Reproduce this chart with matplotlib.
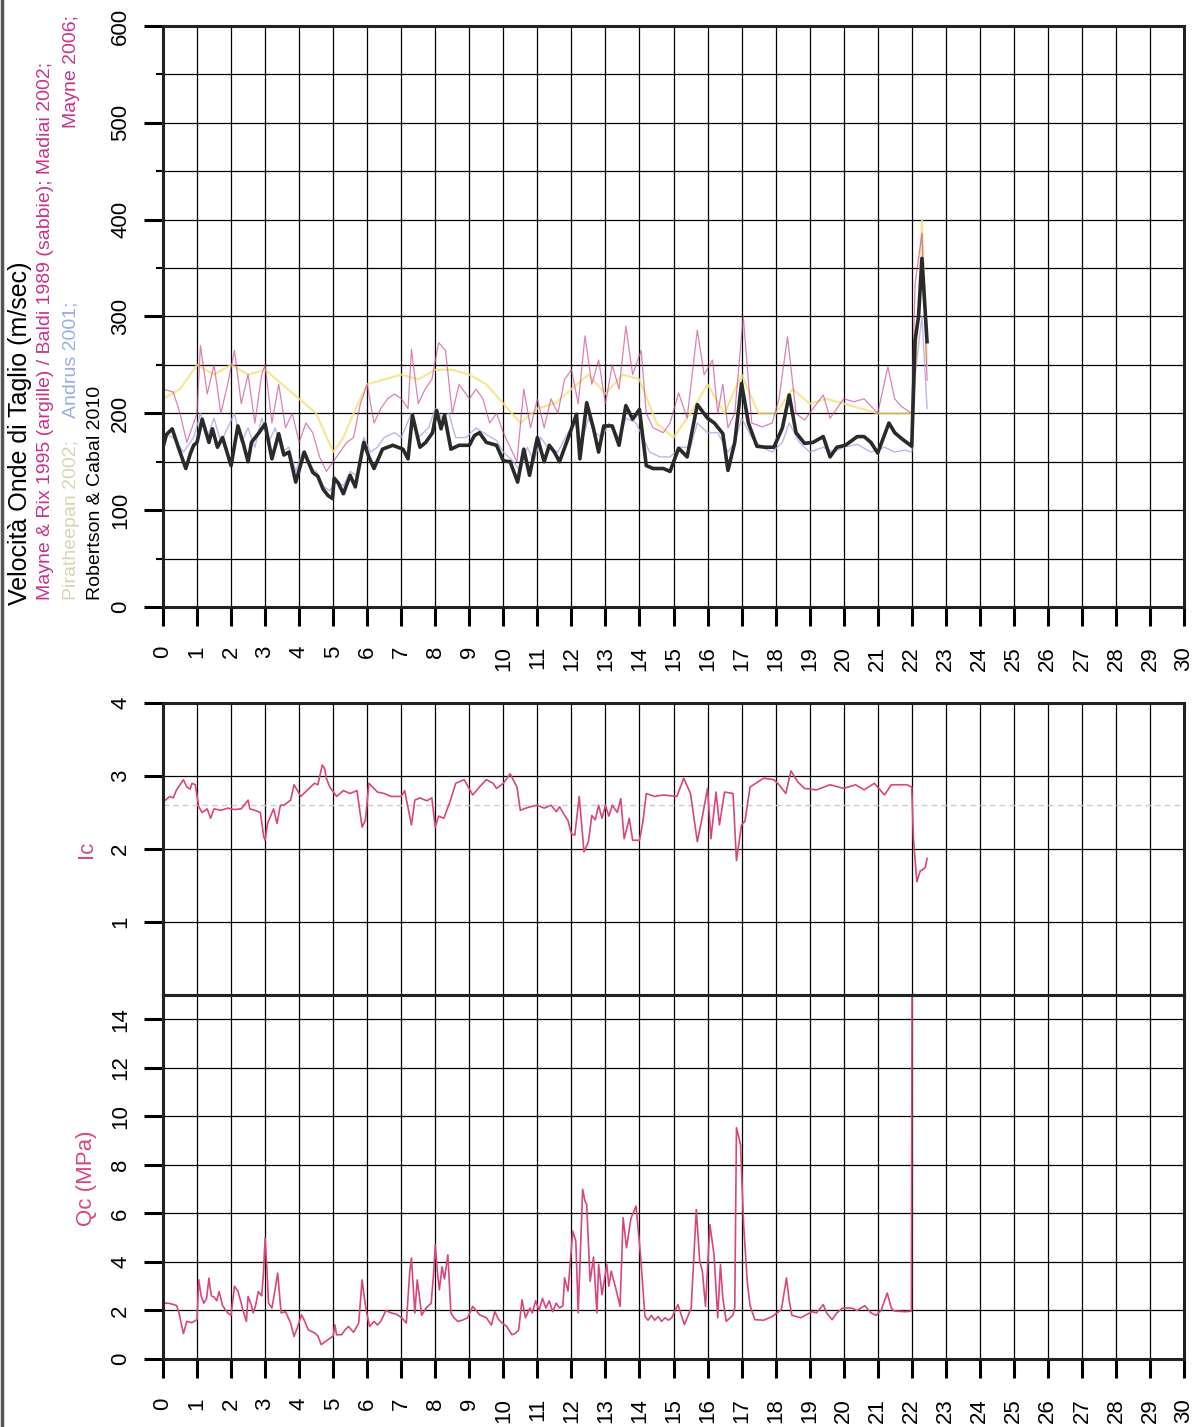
import matplotlib.pyplot as plt
from matplotlib.lines import Line2D

plt.rcParams['font.family'] = ['Liberation Sans', 'DejaVu Sans']

# ---- data (depth in m) ----
# Robertson & Cabal 2010 (black)
rc_depth = [0.0, 0.1, 0.27, 0.45, 0.67, 0.8, 0.9, 1.0, 1.15, 1.35, 1.45, 1.6, 1.75, 2.0, 2.2, 2.35, 2.5,
            2.6, 2.82, 3.0, 3.2, 3.4, 3.55, 3.7, 3.9, 4.15, 4.4, 4.55, 4.7, 4.85, 4.98, 5.03, 5.15, 5.3,
            5.5, 5.65, 5.9, 6.05, 6.2, 6.45, 6.75, 7.05, 7.2, 7.33, 7.55, 7.72, 7.92, 8.04, 8.17, 8.27,
            8.46, 8.7, 9.0, 9.15, 9.3, 9.5, 9.8, 10.0, 10.2, 10.42, 10.6, 10.77, 11.0, 11.2, 11.35, 11.5,
            11.65, 11.9, 12.15, 12.25, 12.45, 12.65, 12.8, 12.95, 13.2, 13.4, 13.6, 13.8, 14.0, 14.2,
            14.4, 14.7, 14.9, 15.15, 15.4, 15.7, 16.0, 16.2, 16.45, 16.6, 16.8, 17.0, 17.2, 17.45, 17.7,
            17.95, 18.2, 18.4, 18.6, 18.85, 19.1, 19.4, 19.6, 19.8, 20.05, 20.4, 20.6, 20.8, 21.0, 21.33,
            21.5, 21.7, 22.0, 22.1, 22.2, 22.3, 22.45]
rc_vs = [165, 178, 184, 165, 143, 158, 167, 170, 194, 170, 184, 165, 175, 146, 187, 170, 150,
         170, 180, 189, 153, 179, 157, 160, 129, 160, 139, 135, 122, 115, 112, 133, 128, 117,
         136, 124, 170, 155, 143, 163, 167, 163, 153, 198, 165, 170, 180, 203, 184, 198,
         163, 167, 167, 177, 180, 170, 167, 151, 150, 129, 163, 136, 175, 150, 167, 160,
         150, 174, 199, 153, 211, 184, 160, 187, 187, 167, 208, 194, 204, 146,
         143, 143, 140, 164, 155, 209, 195, 190, 179, 141, 170, 231, 190, 166, 165,
         165, 185, 219, 180, 169, 170, 176, 155, 165, 167, 176, 176, 170, 159, 190,
         180, 174, 166, 276, 300, 360, 274]

# Mayne & Rix / Baldi (magenta)
mr_depth = [0.0, 0.3, 0.5, 0.7, 1.0, 1.1, 1.3, 1.5, 1.7, 1.9, 2.1, 2.3, 2.5, 2.7, 2.9, 3.0, 3.2, 3.4,
            3.6, 3.8, 4.0, 4.2, 4.4, 4.6, 4.8, 5.0, 5.2, 5.4, 5.6, 5.8, 6.0, 6.2, 6.4, 6.6, 6.8, 7.0,
            7.2, 7.3, 7.5, 7.7, 7.9, 8.1, 8.3, 8.5, 8.7, 9.0, 9.2, 9.4, 9.6, 9.8, 10.0, 10.2, 10.4,
            10.6, 10.8, 11.0, 11.2, 11.4, 11.6, 11.8, 12.0, 12.2, 12.4, 12.6, 12.8, 13.0, 13.2, 13.4,
            13.6, 13.8, 14.05, 14.2, 14.4, 14.7, 14.9, 15.15, 15.4, 15.7, 15.9, 16.15, 16.3, 16.45,
            16.6, 16.8, 17.05, 17.3, 17.6, 17.9, 18.1, 18.35, 18.6, 18.85, 19.1, 19.4, 19.6, 19.8,
            20.0, 20.3, 20.6, 21.0, 21.3, 21.5, 21.7, 22.0, 22.1, 22.3, 22.45]
mr_vs = [225, 222, 200, 170, 200, 270, 220, 250, 200, 230, 265, 210, 240, 190, 240, 250, 190, 230,
         185, 200, 170, 190, 180, 155, 140, 150, 160, 170, 175, 210, 230, 190, 205, 215, 220, 215,
         205, 266, 210, 225, 235, 273, 265, 200, 230, 215, 225, 215, 190, 200, 180, 165, 150,
         225, 185, 215, 185, 215, 200, 235, 245, 210, 280, 230, 255, 210, 250, 225,
         290, 240, 265, 200, 185, 180, 190, 221, 195, 286, 240, 255, 200, 230,
         185, 200, 300, 190, 186, 190, 215, 279, 200, 193, 205, 219, 195, 205,
         215, 212, 215, 200, 248, 215, 207, 200, 334, 386, 234]

# Piratheepan (pale yellow)
py_depth = [0.0, 0.5, 1.0, 1.5, 2.0, 2.5, 3.0, 3.5, 4.0, 4.5, 5.0, 5.3, 5.6, 6.0, 6.5, 7.0, 7.5, 8.0,
            8.5, 9.0, 9.5, 10.0, 10.5, 11.0, 11.5, 12.0, 12.5, 13.0, 13.5, 14.0, 14.5, 15.0, 15.5,
            16.0, 16.5, 17.0, 17.5, 18.0, 18.5, 19.0, 19.5, 20.0, 20.5, 21.0, 21.5, 22.0, 22.2, 22.3,
            22.45]
py_vs = [215, 225, 250, 240, 250, 240, 245, 230, 215, 200, 160, 175, 200, 230, 235, 240, 235, 245,
         245, 240, 230, 210, 190, 205, 210, 225, 240, 220, 240, 235, 190, 175, 200,
         230, 200, 240, 200, 200, 225, 210, 215, 210, 205, 200, 200, 200, 300, 400,
         250]

# Andrus 2001 (lavender)
an_depth = [0.0, 0.3, 0.6, 0.9, 1.1, 1.3, 1.5, 1.7, 1.9, 2.1, 2.3, 2.5, 2.7, 2.9, 3.1, 3.3, 3.5, 3.7,
            3.9, 4.1, 4.3, 4.5, 4.7, 4.9, 5.1, 5.3, 5.5, 5.7, 5.9, 6.1, 6.3, 6.5, 6.8, 7.0, 7.3, 7.5,
            7.8, 8.0, 8.2, 8.4, 8.6, 8.9, 9.2, 9.5, 9.8, 10.0, 10.3, 10.5, 10.7, 10.9, 11.1, 11.3,
            11.6, 11.9, 12.1, 12.3, 12.5, 12.7, 12.9, 13.1, 13.4, 13.6, 13.9, 14.1, 14.3, 14.6, 14.9,
            15.2, 15.5, 15.7, 16.0, 16.3, 16.6, 16.8, 17.0, 17.3, 17.6, 17.9, 18.2, 18.4, 18.7, 19.0,
            19.4, 19.7, 20.0, 20.4, 20.8, 21.2, 21.5, 21.8, 22.0, 22.1, 22.3, 22.45]
an_vs = [180, 175, 160, 175, 200, 175, 195, 170, 185, 200, 170, 185, 165, 195, 170, 185, 160, 165,
         140, 160, 145, 140, 125, 120, 130, 125, 140, 135, 175, 160, 165, 175, 180, 175, 200, 175,
         185, 205, 195, 200, 175, 175, 185, 178, 172, 160, 150, 140, 165, 150, 175, 165,
         160, 180, 190, 170, 195, 180, 175, 190, 175, 195, 190, 175, 160, 155, 155,
         165, 165, 190, 180, 180, 160, 170, 195, 175, 165, 160, 170, 190, 170, 160,
         165, 160, 165, 168, 160, 165, 160, 162, 160, 240, 300, 205]

# Ic
ic_depth = [0.0, 0.07, 0.2, 0.3, 0.4, 0.6, 0.7, 0.8, 0.85, 0.95, 1.05, 1.15, 1.3, 1.4, 1.5, 1.7, 1.9,
            2.1, 2.3, 2.5, 2.55, 2.7, 2.86, 2.96, 3.0, 3.07, 3.15, 3.25, 3.35, 3.45, 3.55, 3.75, 3.85,
            3.95, 4.05, 4.25, 4.45, 4.55, 4.68, 4.75, 4.8, 4.9, 5.1, 5.3, 5.5, 5.7, 5.85, 5.95, 6.05,
            6.3, 6.5, 6.7, 7.0, 7.1, 7.3, 7.4, 7.55, 7.75, 7.9, 8.0, 8.1, 8.25, 8.45, 8.6, 8.85, 9.1,
            9.3, 9.5, 9.7, 9.8, 10.0, 10.2, 10.4, 10.5, 10.6, 10.8, 11.0, 11.2, 11.4, 11.56, 11.65,
            11.8, 11.9, 12.0, 12.1, 12.23, 12.37, 12.5, 12.6, 12.7, 12.8, 12.9, 13.0, 13.1, 13.2,
            13.35, 13.45, 13.55, 13.7, 13.8, 14.0, 14.1, 14.2, 14.45, 14.7, 15.1, 15.3, 15.5, 15.7,
            15.85, 16.0, 16.1, 16.25, 16.35, 16.5, 16.75, 16.85, 17.0, 17.1, 17.25, 17.65, 17.95,
            18.1, 18.3, 18.45, 18.65, 18.85, 19.2, 19.6, 20.0, 20.35, 20.6, 20.9, 21.2, 21.4, 21.85,
            22.0, 22.05, 22.15, 22.25, 22.3, 22.4, 22.45]
ic_val = [2.65, 2.67, 2.72, 2.7, 2.81, 2.95, 2.85, 2.82, 2.9, 2.88, 2.58, 2.5, 2.55, 2.42, 2.55, 2.53, 2.56,
          2.54, 2.55, 2.67, 2.55, 2.53, 2.5, 2.17, 2.12, 2.35, 2.44, 2.55, 2.35, 2.6, 2.6, 2.67, 2.88,
          2.8, 2.72, 2.81, 2.9, 2.88, 3.15, 3.1, 2.97, 2.85, 2.72, 2.8, 2.76, 2.8, 2.3, 2.4, 2.9,
          2.78, 2.76, 2.72, 2.72, 2.8, 2.33, 2.67, 2.7, 2.66, 2.7, 2.3, 2.45, 2.42, 2.67, 2.9, 2.95, 2.74,
          2.85, 2.95, 2.9, 2.83, 2.9, 3.03, 2.85, 2.53, 2.55, 2.58, 2.6, 2.56, 2.6, 2.51, 2.58,
          2.46, 2.39, 2.21, 2.19, 2.72, 1.96, 2.1, 2.46, 2.4, 2.6, 2.42, 2.6, 2.45, 2.6,
          2.5, 2.69, 2.14, 2.42, 2.12, 2.12, 2.37, 2.76, 2.72, 2.74, 2.72, 2.97, 2.76, 2.1,
          2.45, 2.83, 2.14, 2.78, 2.33, 2.78, 2.76, 1.84, 2.33, 2.38, 2.85, 2.97, 2.95,
          2.88, 2.76, 3.07, 2.92, 2.83, 2.81, 2.88, 2.83, 2.88, 2.81, 2.9, 2.74, 2.88, 2.88,
          2.85, 2.14, 1.55, 1.7, 1.71, 1.75, 1.87]

# Qc (MPa)
qc_depth = [0.0, 0.05, 0.15, 0.3, 0.4, 0.47, 0.6, 0.7, 0.85, 1.0, 1.05, 1.12, 1.2, 1.28, 1.35, 1.42,
            1.5, 1.58, 1.65, 1.75, 1.9, 2.0, 2.1, 2.2, 2.3, 2.35, 2.45, 2.5, 2.6, 2.65, 2.72, 2.8, 2.9,
            2.95, 3.0, 3.05, 3.1, 3.2, 3.25, 3.37, 3.47, 3.6, 3.75, 3.85, 3.95, 4.07, 4.15, 4.27, 4.46,
            4.55, 4.65, 4.75, 4.85, 5.0, 5.05, 5.1, 5.25, 5.35, 5.45, 5.6, 5.75, 5.85, 5.92, 5.97, 6.07,
            6.2, 6.3, 6.4, 6.55, 6.7, 6.85, 6.95, 7.05, 7.15, 7.25, 7.3, 7.35, 7.4, 7.47, 7.55, 7.6,
            7.73, 7.88, 7.95, 8.0, 8.07, 8.12, 8.2, 8.27, 8.37, 8.46, 8.55, 8.66, 8.8, 8.95, 9.1, 9.2,
            9.3, 9.5, 9.65, 9.75, 9.85, 9.95, 10.1, 10.25, 10.35, 10.45, 10.55, 10.65, 10.78, 10.85,
            10.95, 11.05, 11.15, 11.25, 11.35, 11.45, 11.55, 11.65, 11.75, 11.8, 11.9, 12.04, 12.13,
            12.2, 12.33, 12.4, 12.45, 12.55, 12.65, 12.75, 12.8, 12.9, 13.04, 13.1, 13.17, 13.3, 13.43,
            13.52, 13.62, 13.75, 13.9, 14.03, 14.16, 14.25, 14.35, 14.45, 14.55, 14.65, 14.75, 14.85,
            14.95, 15.13, 15.32, 15.52, 15.67, 15.77, 15.85, 15.94, 16.07, 16.19, 16.3, 16.38, 16.45,
            16.55, 16.74, 16.8, 16.85, 16.97, 17.06, 17.17, 17.25, 17.39, 17.65, 17.9, 18.17, 18.32,
            18.4, 18.48, 18.74, 19.07, 19.2, 19.4, 19.5, 19.66, 19.8, 19.97, 20.23, 20.4, 20.62, 20.8,
            20.95, 21.1, 21.28, 21.4, 21.48, 21.8, 21.99, 22.03]
qc_val = [2.1, 2.3, 2.3, 2.25, 2.2, 1.9, 1.05, 1.55, 1.5, 1.62, 3.27, 2.6, 2.3, 2.5, 3.33, 2.6,
          2.55, 2.4, 2.78, 2.2, 1.9, 1.8, 3.0, 2.8, 2.3, 2.0, 1.55, 2.58, 2.2, 1.9, 2.2, 2.78, 2.6,
          3.5, 4.98, 3.8, 2.3, 2.1, 2.5, 3.54, 1.9, 1.95, 1.48, 0.93, 1.3, 1.82, 1.6, 1.2, 1.07,
          0.95, 0.59, 0.7, 0.8, 0.95, 1.41, 1.0, 1.0, 1.2, 1.34, 1.1, 1.48, 3.26, 2.5, 2.0, 1.34,
          1.55, 1.4, 1.55, 2.0, 1.9, 1.85, 1.76, 1.65, 1.48, 3.6, 4.16, 3.0, 1.9, 3.26, 2.4, 1.8,
          2.1, 2.3, 3.5, 4.7, 3.5, 2.85, 3.8, 3.3, 4.29, 1.9, 1.7, 1.55, 1.6, 1.7, 2.17, 2.0,
          1.82, 1.7, 1.4, 1.96, 1.65, 1.5, 1.34, 1.0, 1.05, 1.2, 2.44, 1.7, 2.1, 1.9,
          2.4, 2.0, 2.5, 2.1, 2.4, 1.95, 2.3, 2.1, 2.2, 3.34, 2.8, 5.27, 4.86,
          1.9, 6.99, 6.5, 6.37, 3.2, 4.2, 1.9, 3.9, 2.65, 3.9, 3.0, 3.62, 2.93, 2.17,
          5.82, 4.58, 5.8, 6.3, 4.3, 1.76, 1.6, 1.8, 1.6, 1.75, 1.55, 1.7, 1.6,
          1.7, 2.24, 1.42, 2.1, 6.16, 4.03, 3.6, 2.17, 5.54, 4.3, 1.7, 3.9, 2.5,
          1.55, 1.8, 2.1, 9.53, 8.84, 5.54, 3.14, 2.2, 1.62, 1.6, 1.75, 2.04, 3.34,
          2.4, 1.8, 1.7, 1.95, 1.9, 2.24, 1.9, 1.62, 1.9, 2.1, 2.1, 2.0, 2.2, 1.9,
          1.8, 2.0, 2.72, 2.1, 1.98, 1.95, 1.97, 30]

depth_ticks = list(range(0, 31))
vs_ticks = [0, 100, 200, 300, 400, 500, 600]
ic_ticks = [1, 2, 3, 4]
qc_ticks = [0, 2, 4, 6, 8, 10, 12, 14]

W, H = 1192, 1427
fig = plt.figure(figsize=(W / 100, H / 100), dpi=100)


def box(x0, y0, x1, y1):
    return [x0 / W, 1 - y1 / H, (x1 - x0) / W, (y1 - y0) / H]


def style(ax, yt, ylim, minor=None, xlabels=True):
    ax.set_xlim(0, 30)
    ax.set_ylim(*ylim)
    ax.set_xticks(depth_ticks)
    ax.set_yticks(yt)
    if minor is not None:
        ax.set_yticks(minor, minor=True)
    ax.grid(True, which='both', color='black', lw=0.9)
    ax.set_axisbelow(True)
    for s in ax.spines.values():
        s.set_linewidth(2.2)
        s.set_color('#222222')
    ax.tick_params(axis='y', which='major', direction='out', length=14, width=2.2, pad=9,
                   labelsize=16, labelrotation=90)
    ax.tick_params(axis='y', which='minor', direction='out', length=5, width=1.5)
    for lab in ax.get_yticklabels():
        lab.set_va('center')
    if xlabels:
        ax.tick_params(axis='x', direction='out', length=14, width=2.2, pad=14, labelsize=16,
                       labelrotation=90)
        ax.set_xticklabels([str(t) for t in depth_ticks])
    else:
        ax.tick_params(axis='x', length=0, labelbottom=False)


# --- top: shear wave velocity ---
ax1 = fig.add_axes(box(163, 26, 1184, 607))
style(ax1, vs_ticks, (0, 600), minor=[50, 150, 250, 350, 450, 550])
ax1.plot(an_depth, an_vs, color='#a9a6e6', lw=1.0, alpha=0.8)
ax1.plot(py_depth, py_vs, color='#f4e27c', lw=1.6, alpha=0.8)
ax1.plot(mr_depth, mr_vs, color='#cc4c98', lw=0.9, alpha=0.7)
ax1.plot(rc_depth, rc_vs, color='#2a2a2a', lw=2.6)

# --- middle: Ic ---
ax2 = fig.add_axes(box(163, 703, 1184, 995))
style(ax2, ic_ticks, (0, 4), xlabels=False)
ax2.axhline(2.6, color='#cccccc', lw=1.0, ls=(0, (4, 3)))
ax2.plot(ic_depth, ic_val, color='#d8467f', lw=1.2)

# --- bottom: Qc ---
ax3 = fig.add_axes(box(163, 995, 1184, 1359))
style(ax3, qc_ticks, (0, 15))
ax3.plot(qc_depth, qc_val, color='#d8467f', lw=1.2)

# --- rotated axis titles ---
fig.text(20 / W, 1 - 605 / H, 'Velocità Onde di Taglio (m/sec)', rotation=90,
         ha='center', va='bottom', fontsize=18)
fig.text(46 / W, 1 - 600 / H, 'Mayne & Rix 1995 (argille) / Baldi 1989 (sabbie); Madiai 2002;',
         rotation=90, ha='center', va='bottom', fontsize=14, color='#c8338c')
fig.text(71 / W, 1 - 600 / H, 'Piratheepan 2002;', rotation=90, ha='center', va='bottom',
         fontsize=14, color='#d9d4b4')
fig.text(71 / W, 1 - 418 / H, 'Andrus 2001;', rotation=90, ha='center', va='bottom',
         fontsize=14, color='#9aaede')
fig.text(71 / W, 1 - 15 / H, 'Mayne 2006;', rotation=90, ha='center', va='top',
         fontsize=14, color='#c8338c')
fig.text(96 / W, 1 - 600 / H, 'Robertson & Cabal 2010', rotation=90, ha='center', va='bottom',
         fontsize=14, color='black')
fig.text(86 / W, 1 - 849 / H, 'Ic', rotation=90, ha='center', va='center',
         fontsize=16, color='#d8467f')
fig.text(86 / W, 1 - 1178 / H, 'Qc (MPa)', rotation=90, ha='center', va='center',
         fontsize=16, color='#d8467f')

# scan border on the left edge
fig.add_artist(Line2D([2 / W, 2 / W], [0, 1], color='#555555', lw=2.5))

fig.savefig('out.png', dpi=100)
